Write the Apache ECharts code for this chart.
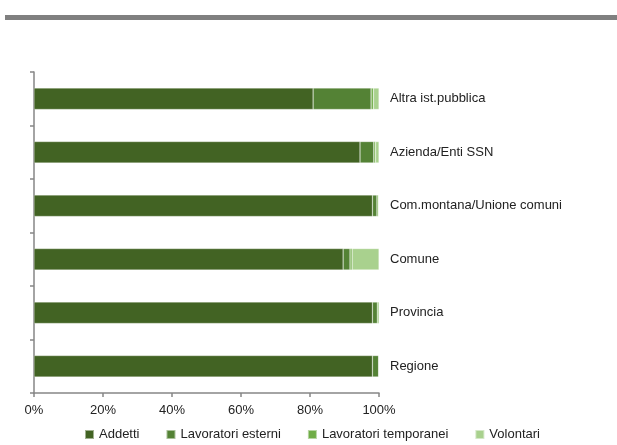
<!DOCTYPE html>
<html>
<head>
<meta charset="utf-8">
<script src="https://cdn.jsdelivr.net/npm/echarts@6/dist/echarts.min.js"></script>
<style>
  html, body { margin: 0; padding: 0; background: #fff; }
  #chart { width: 617px; height: 445px; }
</style>
</head>
<body>
<div id="chart"></div>
<script>
// Categories listed bottom-to-top (category axis grows upward)
const categories = ['Regione', 'Provincia', 'Comune', 'Com.montana/Unione comuni', 'Azienda/Enti SSN', 'Altra ist.pubblica'];
const seriesNames = ['Addetti', 'Lavoratori esterni', 'Lavoratori temporanei', 'Volontari'];
// Percent shares per category (same order as categories)
const addetti     = [98.1, 98.1, 89.6, 98.1, 94.5, 80.9];
const esterni     = [1.8, 1.4, 2.0, 1.3, 4.0, 16.8];
const temporanei  = [0.1, 0.5, 0.6, 0.4, 0.5, 0.7];
const volontari   = [0.0, 0.0, 7.8, 0.2, 1.0, 1.6];
const xTicks = [0, 20, 40, 60, 80, 100];

const colors = ['#426323', '#548235', '#70AD47', '#A9D18E'];
const fontFamily = '"Liberation Sans Narrow", "Liberation Sans", Arial, sans-serif';

const chart = echarts.init(document.getElementById('chart'), null, { renderer: 'canvas' });

const values = [addetti, esterni, temporanei, volontari];

chart.setOption({
  animation: false,
  textStyle: { fontFamily: fontFamily },
  color: colors,
  graphic: [{
    type: 'rect',
    shape: { x: 5, y: 15, width: 612, height: 5 },
    style: { fill: '#808080' }
  }],
  grid: { left: 34, right: 238, top: 72, bottom: 52, containLabel: false },
  legend: {
    top: 423,
    left: 79,
    itemWidth: 9,
    itemHeight: 9,
    itemGap: 26,
    icon: 'rect',
    textStyle: { fontSize: 13, color: '#222', fontFamily: fontFamily },
    data: seriesNames
  },
  xAxis: {
    type: 'value',
    min: xTicks[0],
    max: xTicks[xTicks.length - 1],
    interval: 20,
    axisLine: { show: true, lineStyle: { color: '#868686', width: 1.5 } },
    axisTick: { show: true, length: 4, lineStyle: { color: '#868686', width: 1.5 } },
    splitLine: { show: false },
    axisLabel: { formatter: '{value}%', fontSize: 13, color: '#222', margin: 11 }
  },
  yAxis: [{
    type: 'category',
    data: categories,
    position: 'left',
    axisLine: { show: true, lineStyle: { color: '#868686', width: 1.5 } },
    axisTick: { show: true, inside: false, length: 4, lineStyle: { color: '#868686', width: 1.5 } },
    axisLabel: { show: false }
  }, {
    type: 'category',
    data: categories,
    position: 'right',
    axisLine: { show: false },
    axisTick: { show: false },
    axisLabel: { show: true, fontSize: 13, color: '#222', margin: 11, align: 'left' }
  }],
  series: seriesNames.map((name, i) => ({
    name: name,
    type: 'bar',
    stack: 'total',
    barWidth: '40%',
    data: values[i],
    itemStyle: { color: colors[i], borderColor: 'rgba(255,255,255,0.5)', borderWidth: 0.5 }
  }))
});
</script>
</body>
</html>
